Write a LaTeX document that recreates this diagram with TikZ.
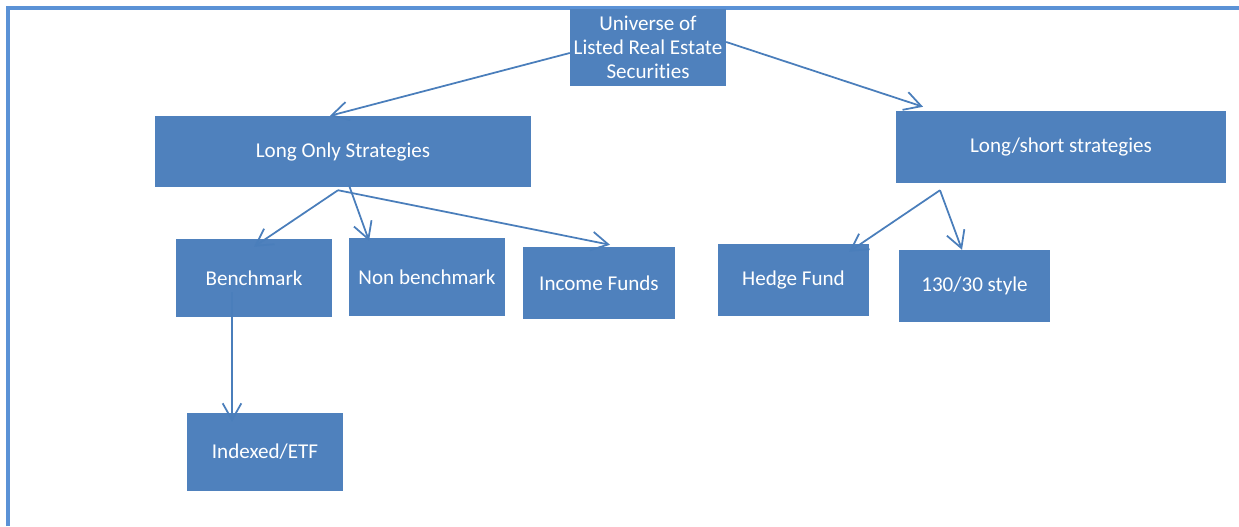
\documentclass[tikz,border=0pt]{standalone}
\usepackage{fontspec}
\setmainfont{Carlito}[Ligatures=CommonOff]
\usepackage{tikz}
\usetikzlibrary{arrows,arrows.meta,shapes,positioning}
\definecolor{ofblue}{RGB}{79,129,189}
\definecolor{oflineblue}{RGB}{74,126,187}
\definecolor{offrame}{RGB}{91,146,214}
\tikzstyle{box} = [rectangle, fill=ofblue, text=white, inner sep=0pt, align=center, font=\fontsize{18}{20.5}\selectfont]
\tikzstyle{arrow} = [line width=1.5pt, -{Straight Barb[length=0.5cm, width=0.56cm]}, color=oflineblue]

\begin{document}
\begin{tikzpicture}[x=0.03cm, y=-0.03cm]
\useasboundingbox (0,0) rectangle (1239,526);
% Frame
\draw[line width=2.6pt, offrame] (8,526) -- (8,8) -- (1239,8);

% Top node
\node[box, minimum width=4.68cm, minimum height=2.31cm] (univ) at (648,47.5) {Universe of\\Listed Real Estate\\Securities};

% Two strategy groups
\node[box, minimum width=11.28cm, minimum height=2.13cm] (longonly) at (343,151.5) {Long Only Strategies};
\node[box, minimum width=9.9cm, minimum height=2.16cm] (longshort) at (1061,147) {Long/short strategies};

% Long only children
\node[box, minimum width=4.68cm, minimum height=2.34cm] (bench) at (254,278) {Benchmark};
\node[box, minimum width=4.68cm, minimum height=2.34cm] (nonbench) at (427,277) {Non benchmark};
\node[box, minimum width=4.56cm, minimum height=2.16cm] (income) at (599,283) {Income Funds};
\node[box, minimum width=4.68cm, minimum height=2.34cm] (indexed) at (265,452) {Indexed/ETF};

% Long/short children
\node[box, minimum width=4.53cm, minimum height=2.16cm] (hedge) at (793.5,280) {Hedge Fund};
\node[box, minimum width=4.53cm, minimum height=2.16cm] (style) at (974.5,286) {130/30 style};

% Arrows
\draw[arrow] ([yshift=-0.165cm]univ.west) -- ([xshift=-0.39cm]longonly.north);
\draw[arrow] ([yshift=0.165cm]univ.east) -- ([xshift=-4.14cm, yshift=0.12cm]longshort.north);
\draw[arrow] ([xshift=-0.15cm, yshift=-0.09cm]longonly.south) -- ([yshift=-0.24cm]bench.north);
\draw[arrow] ([xshift=0.18cm, yshift=0.06cm]longonly.south) -- ([xshift=-1.74cm, yshift=-0.09cm]nonbench.north);
\draw[arrow] ([xshift=-0.15cm, yshift=-0.09cm]longonly.south) -- ([xshift=0.33cm, yshift=0.06cm]income.north);
\draw[arrow] ([xshift=-3.63cm, yshift=-0.21cm]longshort.south) -- ([xshift=1.665cm, yshift=-0.24cm]hedge.north);
\draw[arrow] ([xshift=-3.63cm, yshift=-0.21cm]longshort.south) -- ([xshift=-0.375cm]style.north);
\draw[arrow] ([xshift=-0.66cm, yshift=-0.42cm]bench.center) -- ([xshift=-0.99cm, yshift=-0.27cm]indexed.north);
\end{tikzpicture}
\end{document}
